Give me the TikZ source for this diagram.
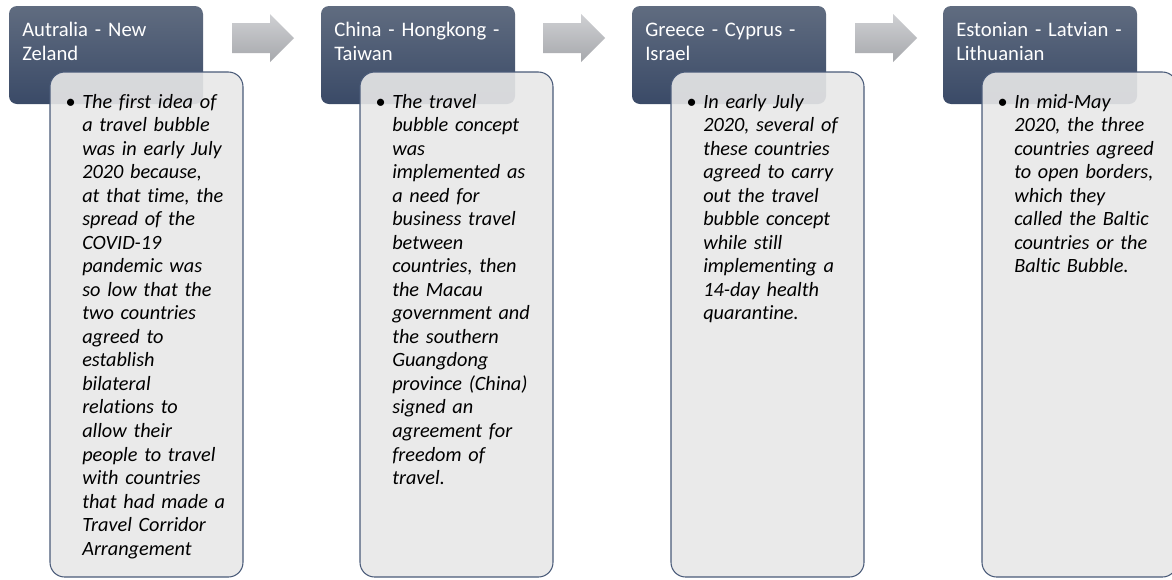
\documentclass[tikz,border=0pt]{standalone}
\usepackage{fontspec}
\setmainfont{Carlito}[RawFeature={-liga;-clig;-calt;-dlig}]
\definecolor{headtop}{HTML}{606C80}
\definecolor{headbot}{HTML}{3A4A67}
\definecolor{cardfill}{HTML}{E8E8E8}
\definecolor{cardline}{HTML}{4A5B79}
\definecolor{arrowtop}{HTML}{CFD0D3}
\definecolor{arrowbot}{HTML}{A6A8AC}
\tikzset{
  headbox/.style={rounded corners=6pt, top color=headtop, bottom color=headbot},
  card/.style={rounded corners=11pt, draw=cardline, line width=0.8pt, fill=cardfill, fill opacity=0.9},
  blockarrow/.style={top color=arrowtop, bottom color=arrowbot},
  headtext/.style={anchor=base west, text=white, text width=135pt, align=left, inner sep=0pt,
    font=\fontsize{15.5}{18}\selectfont},
  cardtext/.style={anchor=base west, text width=125pt, align=left, inner sep=0pt,
    font=\fontsize{15.2}{17.65}\selectfont\itshape},
}
\newcommand{\bul}{\llap{\upshape\textbullet\hspace{5pt}}}
\begin{document}
\begin{tikzpicture}[x=0.75pt,y=-0.75pt]
\useasboundingbox[fill=white] (0,0) rectangle (1172,579);

\shade[headbox] (9,6) rectangle (203,104);
\shade[headbox] (321,6) rectangle (515,104);
\shade[headbox] (632,6) rectangle (826,104);
\shade[headbox] (943,6) rectangle (1137,104);

\shade[blockarrow] (232,23) -- (270,23) -- (270,14) -- (294,38) -- (270,62) -- (270,53) -- (232,53) -- cycle;
\shade[blockarrow] (543,23) -- (581,23) -- (581,14) -- (605,38) -- (581,62) -- (581,53) -- (543,53) -- cycle;
\shade[blockarrow] (855,23) -- (893,23) -- (893,14) -- (917,38) -- (893,62) -- (893,53) -- (855,53) -- cycle;

\draw[card] (50,72) rectangle (243,577);
\draw[card] (360,72) rectangle (553,577);
\draw[card] (671,72) rectangle (864,577);
\draw[card] (982,72) rectangle (1177,577);

\node[headtext] (head1) at (22,36) {Autralia - New\\Zeland};
\node[headtext] (head2) at (334,36) {China - Hongkong -\\Taiwan};
\node[headtext] (head3) at (645,36) {Greece - Cyprus -\\Israel};
\node[headtext] (head4) at (956,36) {Estonian - Latvian -\\Lithuanian};

\node[cardtext] (note1) at (82,108) {\bul The first idea of\\a travel bubble\\was in early July\\2020 because,\\at that time, the\\spread of the\\COVID-19\\pandemic was\\so low that the\\two countries\\agreed to\\establish\\bilateral\\relations to\\allow their\\people to travel\\with countries\\that had made a\\Travel Corridor\\Arrangement};
\node[cardtext] (note2) at (392,108) {\bul The travel\\bubble concept\\was\\implemented as\\a need for\\business travel\\between\\countries, then\\the Macau\\government and\\the southern\\Guangdong\\province (China)\\signed an\\agreement for\\freedom of\\travel.};
\node[cardtext] (note3) at (703,108) {\bul In early July\\2020, several of\\these countries\\agreed to carry\\out the travel\\bubble concept\\while still\\implementing a\\14-day health\\quarantine.};
\node[cardtext] (note4) at (1014,108) {\bul In mid-May\\2020, the three\\countries agreed\\to open borders,\\which they\\called the Baltic\\countries or the\\Baltic Bubble.};
\end{tikzpicture}
\end{document}
